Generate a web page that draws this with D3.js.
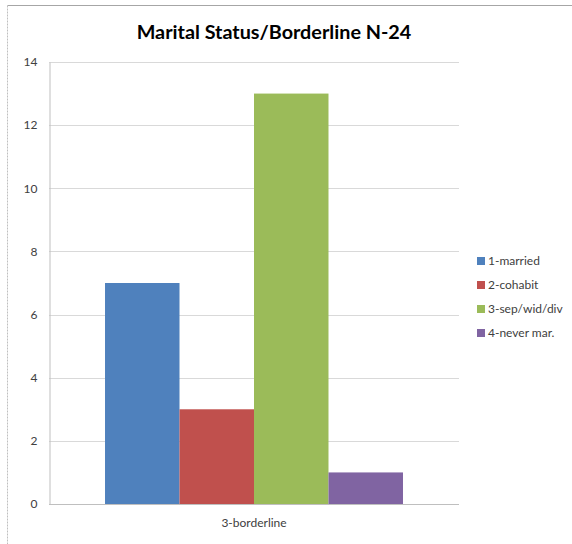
<!DOCTYPE html>
<html><head><meta charset="utf-8">
<script src="https://cdn.jsdelivr.net/npm/d3@7"></script>
<style>body{margin:0;background:#fff}svg{display:block}</style>
</head><body>
<svg id="c" width="572" height="544"></svg>
<script>
const categories = ["3-borderline"];
const seriesNames = ["1-married", "2-cohabit", "3-sep/wid/div", "4-never mar."];
const seriesValues = [7, 3, 13, 1];
const colors = ["#4f81bd", "#c0504d", "#9bbb59", "#8064a2"];
const yTicks = [0, 2, 4, 6, 8, 10, 12, 14];
const title = "Marital Status/Borderline N-24";

const svg = d3.select("#c");
const font = "Lato, 'Open Sans', sans-serif";
// outer border (top & left visible)
svg.append("line").attr("x1",7.5).attr("x2",572).attr("y1",5.5).attr("y2",5.5).attr("stroke","#a6a6a6");
svg.append("line").attr("x1",7.5).attr("x2",7.5).attr("y1",5.5).attr("y2",544).attr("stroke","#bfbfbf").attr("stroke-dasharray","2,1");

const L = 49, R = 459, T = 62, B = 504;
const y = d3.scaleLinear().domain([0, 14]).range([B, T]);
const x0 = d3.scaleBand().domain(categories).range([L, R]).paddingInner(0).paddingOuter(0.188);
const x1 = d3.scaleBand().domain(seriesNames).range([0, x0.bandwidth()]);

// gridlines
svg.append("g").selectAll("line").data(yTicks).join("line")
  .attr("x1", L).attr("x2", R).attr("y1", d => Math.round(y(d))+0.5).attr("y2", d => Math.round(y(d))+0.5)
  .attr("stroke", "#d9d9d9");

// y axis
const yAxis = d3.axisLeft(y).tickValues(yTicks).tickSize(0).tickPadding(12);
const ga = svg.append("g").attr("transform", `translate(${L+0.5},0)`).call(yAxis);
ga.select(".domain").attr("stroke", "#bfbfbf");
ga.selectAll("text").attr("font-family", font).attr("font-size", 12).attr("fill", "#404040");

// bars
const g = svg.append("g").selectAll("g").data(categories).join("g")
  .attr("transform", d => `translate(${x0(d)},0)`);
g.selectAll("rect").data(seriesNames.map((s,i)=>({s, v: seriesValues[i], c: colors[i]}))).join("rect")
  .attr("x", d => x1(d.s)).attr("width", x1.bandwidth())
  .attr("y", d => y(d.v)).attr("height", d => B - y(d.v))
  .attr("fill", d => d.c);

// x axis line
svg.append("line").attr("x1", L).attr("x2", R).attr("y1", B+0.5).attr("y2", B+0.5).attr("stroke", "#bfbfbf");
const xAxis = d3.axisBottom(x0).tickSize(0).tickPadding(14);
const gx = svg.append("g").attr("transform", `translate(0,${B})`).call(xAxis);
gx.select(".domain").remove();
gx.selectAll("text").attr("font-family", font).attr("font-size", 12).attr("fill", "#404040");

// title
svg.append("text").attr("x", 274).attr("y", 39).attr("text-anchor", "middle")
  .attr("font-family", font).attr("font-weight", "bold").attr("font-size", 19.8).attr("fill", "#000")
  .text(title);

// legend
const lg = svg.append("g").selectAll("g").data(seriesNames).join("g")
  .attr("transform", (d,i) => `translate(477,${261 + i*24})`);
lg.append("rect").attr("x", 0).attr("y", -4).attr("width", 8).attr("height", 8).attr("fill", (d,i) => colors[i]);
lg.append("text").attr("x", 11).attr("y", 4).attr("font-family", font).attr("font-size", 12).attr("fill", "#404040").text(d => d);
</script>
</body></html>
